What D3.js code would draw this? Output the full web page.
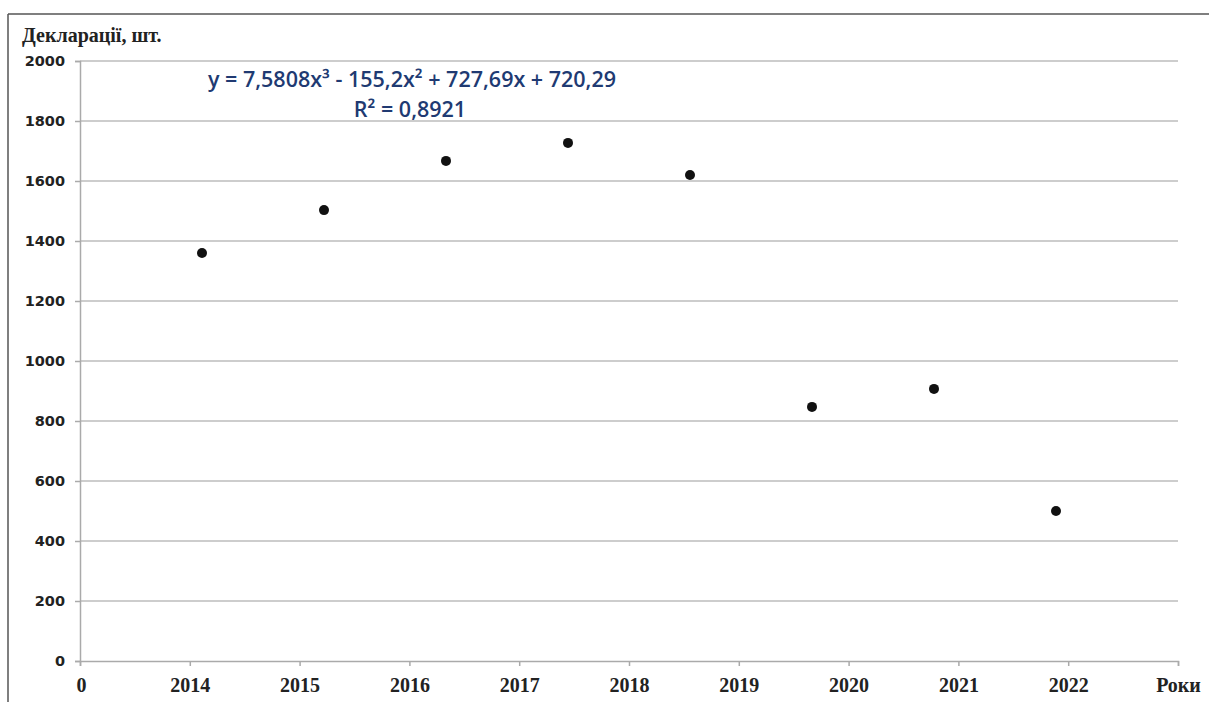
<!DOCTYPE html>
<html>
<head>
<meta charset="utf-8">
<script src="https://cdn.jsdelivr.net/npm/d3@7"></script>
<style>
  html, body { margin: 0; padding: 0; background: #fff; }
  svg { display: block; }
</style>
</head>
<body>
<svg id="chart" width="1209" height="702"></svg>
<script>
// Declarations per year
const years = ["2014", "2015", "2016", "2017", "2018", "2019", "2020", "2021", "2022"];
const declarations = [1360, 1503, 1667, 1727, 1620, 847, 907, 500];
// Category labels along the horizontal axis (evenly spaced)
const xTickLabels = ["0", "2014", "2015", "2016", "2017", "2018", "2019", "2020", "2021", "2022", "Роки"];
const yTicks = [0, 200, 400, 600, 800, 1000, 1200, 1400, 1600, 1800, 2000];
const trendLine1 = "y = 7,5808x³ - 155,2x² + 727,69x + 720,29";
const trendLine2 = "R² = 0,8921";
const yTitle = "Декларації, шт.";

const svg = d3.select("#chart");
const plotLeft = 80, plotRight = 1178, plotTop = 61, plotBottom = 661;

// Scatter points sit on a 0..9 numeric scale
const x = d3.scaleLinear().domain([0, 9]).range([plotLeft, plotRight]);
// Label axis: 10 equal divisions
const xLab = d3.scaleLinear().domain([0, xTickLabels.length - 1]).range([plotLeft, plotRight]);
const y = d3.scaleLinear().domain([0, 2000]).range([plotBottom, plotTop]);

// Frame lines
svg.append("line").attr("x1", 8).attr("x2", 1209).attr("y1", 14).attr("y2", 14)
  .attr("stroke", "#555").attr("stroke-width", 1.5);
svg.append("line").attr("x1", 8).attr("x2", 8).attr("y1", 14).attr("y2", 702)
  .attr("stroke", "#555").attr("stroke-width", 1.5);

// Horizontal gridlines
svg.append("g").selectAll("line").data(yTicks.filter(d => d > 0)).join("line")
  .attr("x1", plotLeft).attr("x2", plotRight)
  .attr("y1", d => y(d)).attr("y2", d => y(d))
  .attr("stroke", "#bdbdbd").attr("stroke-width", 1.5);

// Y axis
const yAxis = svg.append("g").attr("transform", `translate(${plotLeft},0)`)
  .call(d3.axisLeft(y).tickValues(yTicks).tickSize(5).tickPadding(10).tickFormat(d3.format("d")));
yAxis.select(".domain").attr("stroke", "#aaa").attr("stroke-width", 1.5);
yAxis.selectAll(".tick line").attr("stroke", "#aaa").attr("stroke-width", 1.5);
yAxis.selectAll(".tick text")
  .attr("font-family", "DejaVu Sans, sans-serif").attr("font-weight", "bold")
  .attr("font-size", 14.5).attr("fill", "#222");

// X axis
const xAxis = svg.append("g").attr("transform", `translate(0,${plotBottom})`)
  .call(d3.axisBottom(xLab).tickValues(d3.range(xTickLabels.length))
    .tickSize(5).tickPadding(0).tickFormat(i => xTickLabels[i]));
xAxis.select(".domain").attr("stroke", "#aaa").attr("stroke-width", 1.5);
xAxis.selectAll(".tick line").attr("stroke", "#aaa").attr("stroke-width", 1.5);
xAxis.selectAll(".tick text")
  .attr("dy", null).attr("y", 31)
  .attr("font-family", "Liberation Serif, serif").attr("font-weight", "bold")
  .attr("font-size", 20).attr("fill", "#222");
xAxis.selectAll(".tick text").filter(d => d === 0).attr("dx", 1);

// Axis title
svg.append("text").attr("x", 22).attr("y", 42).text(yTitle)
  .attr("font-family", "Liberation Serif, serif").attr("font-weight", "bold")
  .attr("font-size", 20).attr("fill", "#222");

// Points
svg.append("g").selectAll("circle").data(declarations).join("circle")
  .attr("cx", (d, i) => x(i + 1)).attr("cy", d => y(d)).attr("r", 5)
  .attr("fill", "#111");

// Trendline equation
const eq = svg.append("g").attr("font-family", "Open Sans, sans-serif")
  .attr("font-weight", 600).attr("fill", "#203a72").attr("text-anchor", "middle");
eq.append("text").attr("x", 412).attr("y", 87).attr("font-size", 21.5).text(trendLine1);
eq.append("text").attr("x", 410).attr("y", 117).attr("font-size", 21.5).text(trendLine2);
</script>
</body>
</html>
